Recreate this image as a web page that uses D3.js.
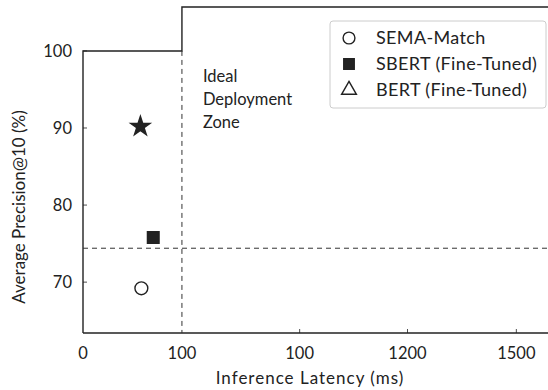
<!DOCTYPE html>
<html>
<head>
<meta charset="utf-8">
<script src="https://cdn.jsdelivr.net/npm/d3@7"></script>
<style>
  body { margin: 0; background: #fff; }
  text { font-family: Lato, "Open Sans", sans-serif; fill: #222; }
</style>
</head>
<body>
<div id="chart"></div>
<script>
// data
var models = ["SEMA-Match", "SBERT (Fine-Tuned)", "BERT (Fine-Tuned)"];
var latency = [59, 71, 58];          // ms
var precision = [69.2, 75.8, 90.2];  // average precision@10 (%)
var markers = ["circle", "square", "star"];
var legendMarkers = ["circle", "square", "triangle"];

var xTickValues = [0, 100, 219, 328, 438];
var xTickLabels = ["0", "100", "100", "1200", "1500"];
var yTickValues = [70, 80, 90, 100];

var latencyThreshold = 100;
var precisionThreshold = 74.4;

// size
var W = 548, H = 390;
var margin = {top: 7, right: 0, bottom: 57, left: 83};

var svg = d3.select("#chart").append("svg")
  .attr("width", W).attr("height", H);

var x = d3.scaleLinear().domain([0, 470]).range([margin.left, W - margin.right]);
var y = d3.scaleLinear().domain([63.4, 105.7]).range([H - margin.bottom, margin.top]);

// frame (stepped top border)
svg.append("path")
  .attr("fill", "none").attr("stroke", "#222").attr("stroke-width", 1.4)
  .attr("d", "M" + x(0) + "," + y(63.4) + "V" + y(100) + "H" + x(latencyThreshold) +
    "V" + y(105.7) + "H" + (W + 5));
svg.append("line")
  .attr("x1", x(0)).attr("x2", W + 5).attr("y1", y(63.4)).attr("y2", y(63.4))
  .attr("stroke", "#222").attr("stroke-width", 1.4);

// y ticks (inward)
var yAxis = svg.append("g");
yAxis.selectAll("line").data(yTickValues).enter().append("line")
  .attr("x1", x(0)).attr("x2", x(0) + 4)
  .attr("y1", function (d) { return y(d); }).attr("y2", function (d) { return y(d); })
  .attr("stroke", "#222").attr("stroke-width", 0.8);
yAxis.selectAll("text").data(yTickValues).enter().append("text")
  .attr("x", x(0) - 11).attr("y", function (d) { return y(d); })
  .attr("dy", "0.35em").attr("text-anchor", "end")
  .style("font-size", "16.5px").text(function (d) { return d; });

// x ticks (inward)
var xAxis = svg.append("g");
xAxis.selectAll("line").data(xTickValues.slice(2)).enter().append("line")
  .attr("x1", function (d) { return x(d); }).attr("x2", function (d) { return x(d); })
  .attr("y1", y(63.4)).attr("y2", y(63.4) - 4)
  .attr("stroke", "#222").attr("stroke-width", 0.8);
xAxis.selectAll("text").data(xTickValues).enter().append("text")
  .attr("x", function (d) { return x(d); }).attr("y", y(63.4) + 26)
  .attr("text-anchor", "middle")
  .style("font-size", "16.5px").text(function (d, i) { return xTickLabels[i]; });

// axis titles
svg.append("text")
  .attr("x", 310).attr("y", 384)
  .attr("text-anchor", "middle").style("font-size", "17px").style("letter-spacing", "1px")
  .text("Inference Latency (ms)");
svg.append("text")
  .attr("transform", "translate(25,207) rotate(-90)")
  .attr("text-anchor", "middle").style("font-size", "17px")
  .text("Average Precision@10 (%)");

// threshold lines
svg.append("line")
  .attr("x1", x(latencyThreshold)).attr("x2", x(latencyThreshold))
  .attr("y1", y(100)).attr("y2", y(63.4))
  .attr("stroke", "#333").attr("stroke-width", 1).attr("stroke-dasharray", "5,4");
svg.append("line")
  .attr("x1", x(0)).attr("x2", W)
  .attr("y1", y(precisionThreshold)).attr("y2", y(precisionThreshold))
  .attr("stroke", "#333").attr("stroke-width", 1).attr("stroke-dasharray", "5,4");

// zone label
svg.append("text")
  .attr("x", x(latencyThreshold) + 21).attr("y", 82)
  .style("font-size", "16.5px")
  .selectAll("tspan").data(["Ideal", "Deployment", "Zone"]).enter().append("tspan")
  .attr("x", x(latencyThreshold) + 21)
  .attr("dy", function (d, i) { return i ? 23 : 0; })
  .text(function (d) { return d; });

// marker shapes
function symbolFor(m, big) {
  if (m === "circle") return d3.symbol(d3.symbolCircle, big ? 130 : 110)();
  if (m === "square") return d3.symbol(d3.symbolSquare, big ? 135 : 110)();
  if (m === "star") return d3.symbol(d3.symbolStar, 115)();
  return d3.symbol(d3.symbolTriangle, 95)();
}
function fillFor(m) { return (m === "circle" || m === "triangle") ? "#fff" : "#222"; }

svg.selectAll(".pt").data(models).enter().append("path")
  .attr("class", "pt")
  .attr("transform", function (d, i) { return "translate(" + x(latency[i]) + "," + y(precision[i]) + ")"; })
  .attr("d", function (d, i) { return symbolFor(markers[i], true); })
  .attr("fill", function (d, i) { return fillFor(markers[i]); })
  .attr("stroke", "#222").attr("stroke-width", 1.4);

// legend
var lg = svg.append("g").attr("transform", "translate(330,21)");
lg.append("rect").attr("width", 216).attr("height", 87).attr("rx", 3)
  .attr("fill", "#fff").attr("stroke", "#ccc").attr("stroke-width", 1);
var row = lg.selectAll(".row").data(models).enter().append("g")
  .attr("transform", function (d, i) { return "translate(0," + (17 + i * 26) + ")"; });
row.append("path")
  .attr("transform", "translate(19,0)")
  .attr("d", function (d, i) { return symbolFor(legendMarkers[i], false); })
  .attr("fill", function (d, i) { return fillFor(legendMarkers[i]); })
  .attr("stroke", "#222").attr("stroke-width", 1.4);
row.append("text").attr("x", 46).attr("dy", "0.35em")
  .style("font-size", "18px").style("letter-spacing", "0.35px")
  .text(function (d) { return d; });
</script>
</body>
</html>
